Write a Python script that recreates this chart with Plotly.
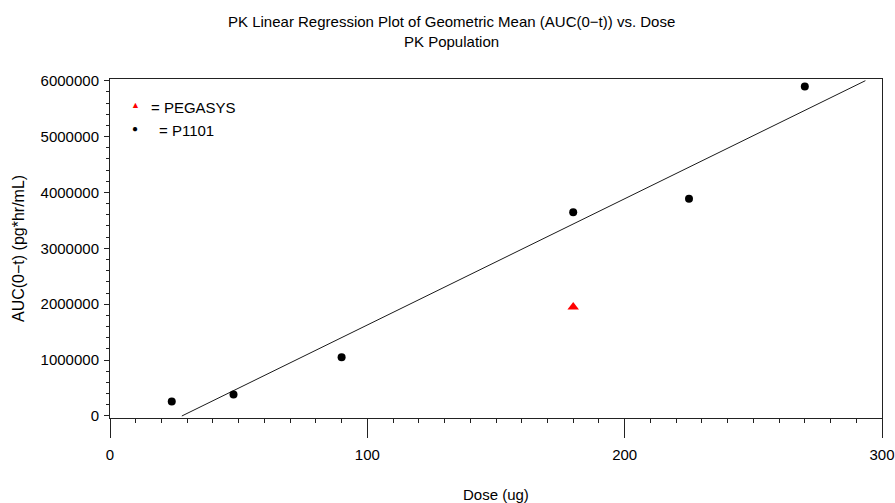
import numpy as np
import plotly.graph_objects as go

# Geometric mean AUC(0-t) by dose
p1101_dose = [24, 48, 90, 180, 225, 270]
p1101_auc = [258000, 383000, 1052000, 3645000, 3889000, 5896000]
pegasys_dose = [180]
pegasys_auc = [1950000]

x_ticks = [0, 100, 200, 300]
y_ticks = [0, 1000000, 2000000, 3000000, 4000000, 5000000, 6000000]

title_line1 = "PK Linear Regression Plot of Geometric Mean (AUC(0−t)) vs. Dose"
title_line2 = "PK Population"
x_title = "Dose (ug)"
y_title = "AUC(0−t) (pg*hr/mL)"

# Least-squares fit through the P1101 means, drawn between y=0 and the top tick
slope, intercept = np.polyfit(p1101_dose, p1101_auc, 1)
y_lo, y_hi = 0, max(y_ticks)
fit_x = [(y_lo - intercept) / slope, (y_hi - intercept) / slope]
fit_y = [slope * v + intercept for v in fit_x]

W, H = 895, 503
L, R, T, B = 110, 13, 79, 85
pw, ph = W - L - R, H - T - B


def px_x(px):
    return (px - L) / pw


def px_y(py):
    return 1 - (py - T) / ph


FONT = "Liberation Sans, Arial, sans-serif"
AX = "#222222"

fig = go.Figure()
fig.add_trace(go.Scatter(x=fit_x, y=fit_y, mode="lines",
                         line=dict(color="#1a1a1a", width=1), showlegend=False,
                         hoverinfo="skip"))
fig.add_trace(go.Scatter(x=p1101_dose, y=p1101_auc, mode="markers", name="P1101",
                         marker=dict(symbol="circle", size=8, color="black"),
                         showlegend=False))
fig.add_trace(go.Scatter(x=pegasys_dose, y=pegasys_auc, mode="markers", name="PEGASYS",
                         marker=dict(symbol="triangle-up", size=10, color="#ff0000"),
                         showlegend=False))

axis_common = dict(showgrid=False, zeroline=False, showline=True, linecolor=AX,
                   linewidth=1, mirror=True, ticks="outside", tickcolor=AX,
                   automargin=False, ticklabeloverflow="allow",
                   tickfont=dict(family=FONT, size=15, color="black"))

fig.update_xaxes(range=[0, 300], tickvals=x_ticks, ticklen=19, ticklabelstandoff=4,
                 minor=dict(dtick=10, ticklen=4, ticks="outside", tickcolor=AX),
                 **axis_common)
fig.update_yaxes(range=[-36000, 6030000], tickvals=y_ticks, ticklen=5,
                 tickformat="d", ticklabelstandoff=2,
                 minor=dict(dtick=200000, ticklen=3, ticks="outside", tickcolor=AX),
                 **axis_common)

ann_font = dict(family=FONT, size=15, color="black")
annotations = [
    dict(text=title_line1, x=px_x(451), y=px_y(21), xref="paper", yref="paper",
         showarrow=False, font=ann_font, xanchor="center", yanchor="middle"),
    dict(text=title_line2, x=px_x(451), y=px_y(42), xref="paper", yref="paper",
         showarrow=False, font=ann_font, xanchor="center", yanchor="middle"),
    dict(text=x_title, x=px_x(496), y=px_y(494), xref="paper", yref="paper",
         showarrow=False, font=ann_font, xanchor="center", yanchor="middle"),
    dict(text=y_title, x=px_x(18), y=px_y(249), xref="paper", yref="paper",
         showarrow=False, font=dict(family=FONT, size=16, color="black"),
         xanchor="center", yanchor="middle", textangle=-90),
    # legend key
    dict(text="▲", x=px_x(135), y=px_y(105), xref="paper", yref="paper",
         showarrow=False, font=dict(family=FONT, size=9, color="#ff0000"),
         xanchor="center", yanchor="middle"),
    dict(text="= PEGASYS", x=px_x(149), y=px_y(107), xref="paper", yref="paper",
         showarrow=False, font=ann_font, xanchor="left", yanchor="middle"),
    dict(text="●", x=px_x(135), y=px_y(128), xref="paper", yref="paper",
         showarrow=False, font=dict(family=FONT, size=10, color="black"),
         xanchor="center", yanchor="middle"),
    dict(text="= P1101", x=px_x(157), y=px_y(130), xref="paper", yref="paper",
         showarrow=False, font=ann_font, xanchor="left", yanchor="middle"),
]

fig.update_layout(width=W, height=H, margin=dict(l=L, r=R, t=T, b=B, autoexpand=False),
                  paper_bgcolor="white", plot_bgcolor="white",
                  annotations=annotations, showlegend=False)

fig.write_html("out.html")
